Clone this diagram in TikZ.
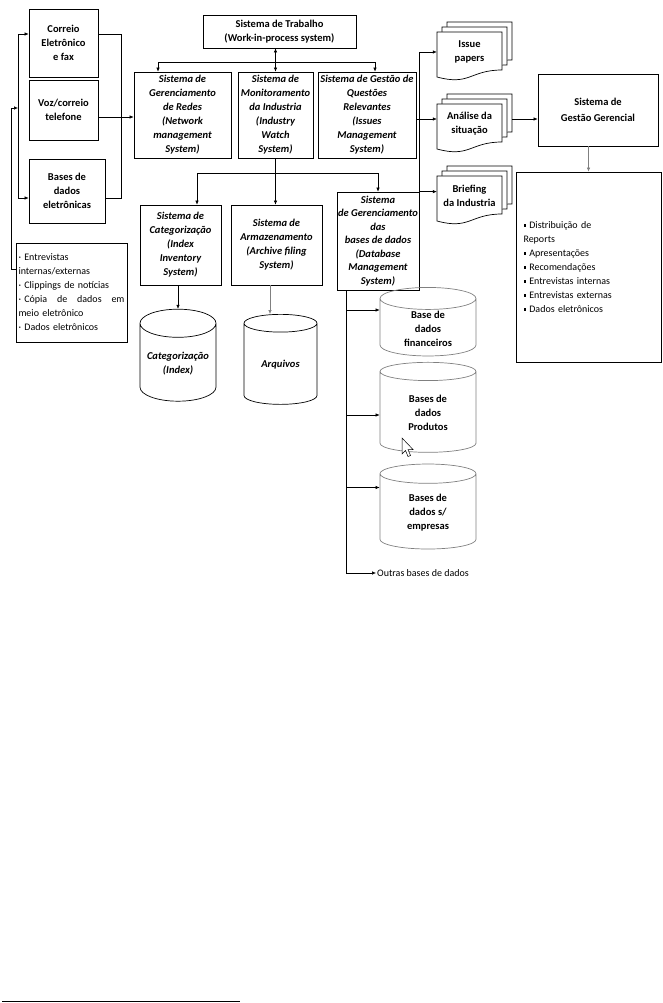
\documentclass[tikz,border=0pt]{standalone}
\usepackage{fontspec}
\setmainfont{Carlito}
\usetikzlibrary{arrows.meta, shapes.geometric}

\begin{document}
\begin{tikzpicture}[x=1pt, y=-1pt,
    box/.style={draw, line width=0.7pt, align=center, inner sep=1pt,
        font=\fontsize{10.5}{14}\selectfont\bfseries},
    sysbox/.style={box, font=\fontsize{10.5}{14}\selectfont\bfseries\itshape},
    listbox/.style={draw, line width=0.7pt, inner sep=2.5pt, align=left,
        font=\fontsize{10}{14}\selectfont},
    dbcyl/.style={cylinder, shape border rotate=90, draw, line width=0.7pt,
        aspect=0.44, inner sep=1pt, align=center,
        font=\fontsize{10.5}{14}\selectfont\bfseries},
    docpage/.style={draw, fill=white, line width=0.7pt},
    doctext/.style={align=center, inner sep=0pt, minimum width=65pt,
        minimum height=40pt, font=\fontsize{10.5}{14}\selectfont\bfseries},
    arr/.style={-{Latex[length=4pt,width=3.5pt]}, line width=0.6pt},
    dblarr/.style={{Latex[length=4pt,width=3.5pt]}-{Latex[length=4pt,width=3.5pt]}, line width=0.6pt},
]
\useasboundingbox (0,0) rectangle (663,1003);

% Sources on the left:
\node[box, minimum width=69pt, minimum height=68pt] (mail) at (63.5,43) {Correio\\Eletrônico\\e fax};
\node[box, minimum width=69pt, minimum height=60pt] (voice) at (63.5,110) {Voz/correio\\telefone};
\node[box, minimum width=76pt, minimum height=64pt] (bases) at (67,191) {Bases de\\dados\\eletrônicas};
\node[listbox, minimum width=111pt, minimum height=99pt, text width=106pt] (interv) at (71.5,292.5)
    {· Entrevistas\\ internas/externas\\ · Clippings de notícias\\
     · Cópia\hfill de\hfill dados\hfill em\\ meio eletrônico\\ · Dados eletrônicos};

% Work system and the three systems under it:
\node[box, minimum width=153pt, minimum height=33pt] (work) at (279.5,31.5) {Sistema de Trabalho\\(Work-in-process system)};
\node[sysbox, minimum width=97pt, minimum height=86pt] (network) at (182.5,115)
    {Sistema de\\Gerenciamento\\de Redes\\(Network\\management\\System)};
\node[sysbox, minimum width=75pt, minimum height=86pt] (watch) at (275.5,115)
    {Sistema de\\Monitoramento\\da Industria\\(Industry\\Watch\\System)};
\node[sysbox, minimum width=98pt, minimum height=86pt] (issues) at (367,115)
    {Sistema de Gestão de\\Questões\\Relevantes\\(Issues\\Management\\System)};

% Second row:
\node[sysbox, minimum width=81pt, minimum height=80pt] (categ) at (180.5,245)
    {Sistema de\\Categorização\\(Index\\Inventory\\System)};
\node[sysbox, minimum width=91pt, minimum height=80pt] (archive) at (276.5,245)
    {Sistema de\\Armazenamento\\(Archive filing\\System)};
\node[sysbox, minimum width=78pt, minimum height=98pt, font=\fontsize{10.5}{13.5}\selectfont\bfseries\itshape] (dbms) at (378,241)
    {Sistema\\de Gerenciamento\\das\\bases de dados\\(Database\\Management\\System)};

% Databases:
\node[dbcyl, font=\fontsize{10.5}{14}\selectfont\bfseries\itshape, minimum width=76pt, minimum height=92pt] (catdb) at (178,364) {Categorização\\(Index)};
\node[dbcyl, font=\fontsize{10.5}{14}\selectfont\bfseries\itshape, minimum width=73pt, minimum height=90pt] (filesdb) at (280.5,365) {Arquivos};
\node[dbcyl, draw=gray, minimum width=96pt, minimum height=63pt] (findb) at (428,328.5) {Base de\\dados\\financeiros};
\node[dbcyl, draw=gray, minimum width=96pt, minimum height=90pt] (proddb) at (428,413) {Bases de\\dados\\Produtos};
\node[dbcyl, draw=gray, minimum width=96pt, minimum height=85pt] (empdb) at (428,512.5) {Bases de\\dados s/\\empresas};
\node[anchor=west, inner sep=1pt, font=\fontsize{10}{11}\selectfont] (others) at (376,573) {Outras bases de dados};

% Mouse pointer
\draw[fill=white, line width=0.5pt] (402,438) -- (402,454) -- (405.5,450.5) -- (408,456.5)
    -- (410.5,455.5) -- (408,449.5) -- (413,449.5) -- cycle;

% Reports (stacks of pages):
\foreach \nm/\yt/\txt in {papers/32/{Issue\\papers}, analysis/104/{Análise da\\situação}, briefing/176/{Briefing\\da Industria}}{
    \foreach \o in {10,5,0}
        \draw[docpage] (437+\o,\yt-\o) -- (502+\o,\yt-\o) -- (502+\o,\yt-\o+38)
            .. controls (470+\o,\yt-\o+38) and (470+\o,\yt-\o+54) .. (437+\o,\yt-\o+45) -- cycle;
    \node[doctext] (\nm) at (469.5,\yt+20) {\txt};
}

% Management:
\node[box, minimum width=120pt, minimum height=72pt, font=\fontsize{10.5}{16}\selectfont\bfseries] (mgmt) at (598,110) {Sistema de\\Gestão Gerencial};
\node[listbox, minimum width=145pt, minimum height=190pt, text width=130pt] (reports) at (588.5,267)
    {\rule[1.5pt]{2.5pt}{2.5pt} Distribuição de\\ Reports\\ \rule[1.5pt]{2.5pt}{2.5pt} Apresentações\\
     \rule[1.5pt]{2.5pt}{2.5pt} Recomendações\\ \rule[1.5pt]{2.5pt}{2.5pt} Entrevistas internas\\
     \rule[1.5pt]{2.5pt}{2.5pt} Entrevistas externas\\ \rule[1.5pt]{2.5pt}{2.5pt} Dados eletrônicos};

\begin{scope}[line width=0.6pt]
    % left bracket
    \coordinate (lbr) at (18,108);
    \coordinate (mIn) at ([yshift=9pt]mail.west);
    \coordinate (bIn) at ([yshift=-7pt]bases.west);
    \coordinate (ivOut) at ([yshift=23.5pt]interv.west);
    \draw[arr] (ivOut) -- ++(-4,0) |- (lbr);
    \draw[arr] (lbr) |- (mIn);
    \draw[arr] (lbr) |- (bIn);
    % right bracket
    \coordinate (mOut) at ([yshift=9pt]mail.east);
    \coordinate (bOut) at ([yshift=-7pt]bases.east);
    \draw (mOut) -- ++(23,0) |- (bOut);
    \coordinate (vOut) at ([yshift=-7pt]voice.east);
    \draw[arr] (vOut) -- (vOut -| network.west);

    % work system
    \draw[dblarr] (watch.north) -- (watch.north |- work.south);
    \coordinate (wsplit) at (watch.north |- 0,62);
    \coordinate (netIn) at ([xshift=-24.5pt]network.north);
    \coordinate (issIn) at ([xshift=8pt]issues.north);
    \draw[arr] (wsplit) -| (netIn);
    \draw[arr] (wsplit) -| (issIn);

    % second row
    \coordinate (lsplit) at (watch.south |- 0,173);
    \coordinate (catIn) at ([xshift=16.5pt]categ.north);
    \draw[arr] (watch.south) -- (watch.south |- archive.north);
    \draw[arr] (lsplit) -| (catIn);
    \draw[arr] (lsplit) -| (dbms.north);
    \draw[arr] (catdb.north |- categ.south) -- (catdb.north);
    \coordinate (arOut) at ([xshift=-6.5pt]archive.south);
    \draw[arr, gray] (arOut) -- (arOut |- filesdb.north);

    % reports
    \coordinate (aIn) at ([yshift=5pt]analysis.west);
    \coordinate (aOut) at ([xshift=10pt,yshift=5pt]analysis.east);
    \draw[arr] (aIn -| issues.east) -- (aIn);
    \draw[arr] (dbms.north east) |- (papers.west);
    \draw[arr] (dbms.north east) -- (dbms.north east -| briefing.west);
    \draw[arr] (aOut) -- (aOut -| mgmt.west);
    \draw[arr, gray] (reports.north |- mgmt.south) -- (reports.north);

    % databases
    \coordinate (rail) at ([xshift=-32pt]dbms.south);
    \draw[arr] (rail) |- (others.west);
    \foreach \db/\dy in {findb/18.5, proddb/-2, empdb/25}{
        \coordinate (dbIn) at ([yshift=\dy pt]\db.west);
        \draw[arr] (rail |- dbIn) -- (dbIn);
    }
\end{scope}

% footnote rule
\draw[line width=1pt] (2,1001) -- (240,1001);
\end{tikzpicture}
\end{document}
